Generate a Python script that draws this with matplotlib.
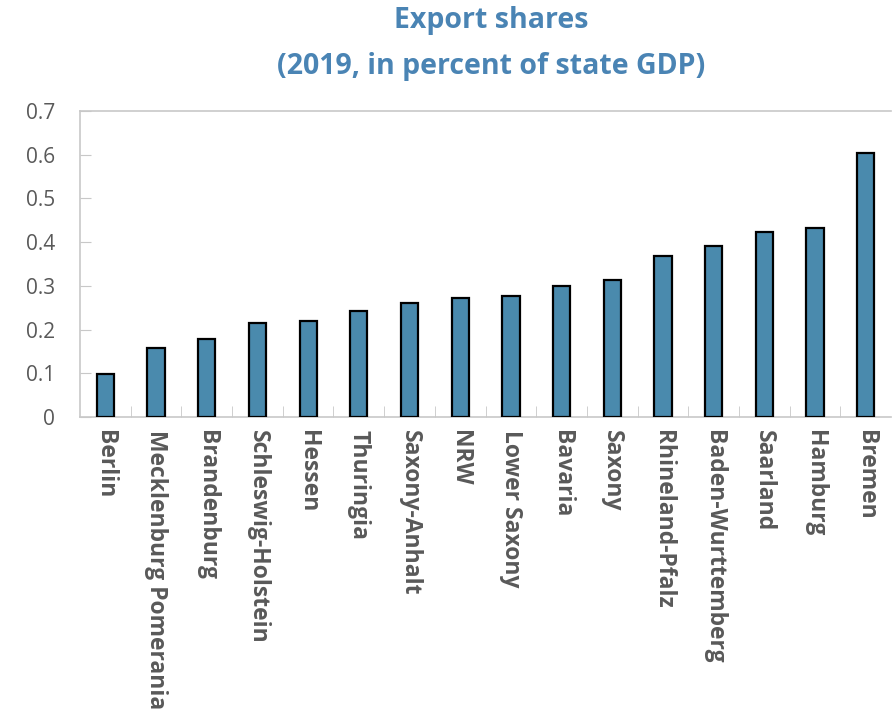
import matplotlib.pyplot as plt
import numpy as np

states = ["Berlin", "Mecklenburg Pomerania", "Brandenburg", "Schleswig-Holstein",
          "Hessen", "Thuringia", "Saxony-Anhalt", "NRW", "Lower Saxony", "Bavaria",
          "Saxony", "Rhineland-Pfalz", "Baden-Wurttemberg", "Saarland", "Hamburg", "Bremen"]
shares = [0.099, 0.157, 0.179, 0.214, 0.220, 0.243, 0.261, 0.272, 0.278, 0.300,
          0.314, 0.369, 0.391, 0.424, 0.433, 0.604]

plt.rcParams['font.family'] = ['Open Sans', 'DejaVu Sans']
grey = "#595959"

fig = plt.figure(figsize=(8.92, 7.12), dpi=100)
ax = fig.add_axes([0.0897, 0.4143, 0.9093, 0.4297])

x = np.arange(len(states))
ax.bar(x, shares, width=0.34, color="#4a8aad", edgecolor="black", linewidth=1.6, zorder=3)

ax.set_xlim(-0.5, len(states) - 0.5)
ax.set_ylim(0, 0.7)
ax.set_yticks(np.arange(0, 0.71, 0.1))
ax.set_yticklabels(["0", "0.1", "0.2", "0.3", "0.4", "0.5", "0.6", "0.7"])
ax.tick_params(axis="y", direction="in", length=8, color="#c8c8c8", labelsize=15,
               labelcolor=grey, pad=18)

ax.set_xticks(x)
ax.set_xticklabels(states, rotation=270, fontsize=16.5, fontweight="bold", color=grey,
                   va="top", ha="center")
ax.tick_params(axis="x", length=0, pad=9)
# category separators as small ticks inside the axis
ax.set_xticks(np.arange(0.5, len(states) - 1, 1), minor=True)
ax.tick_params(axis="x", which="minor", direction="in", length=8, color="#c8c8c8")

for side in ["left", "top", "bottom"]:
    ax.spines[side].set_color("#c8c8c8")
    ax.spines[side].set_linewidth(1.2)
ax.spines["right"].set_visible(False)

fig.text(0.551, 0.991, "Export shares\n(2019, in percent of state GDP)", ha="center",
         va="top", fontsize=20.5, fontweight="bold", color="#4a84b4", linespacing=1.75)

fig.savefig("out.png", dpi=100)
